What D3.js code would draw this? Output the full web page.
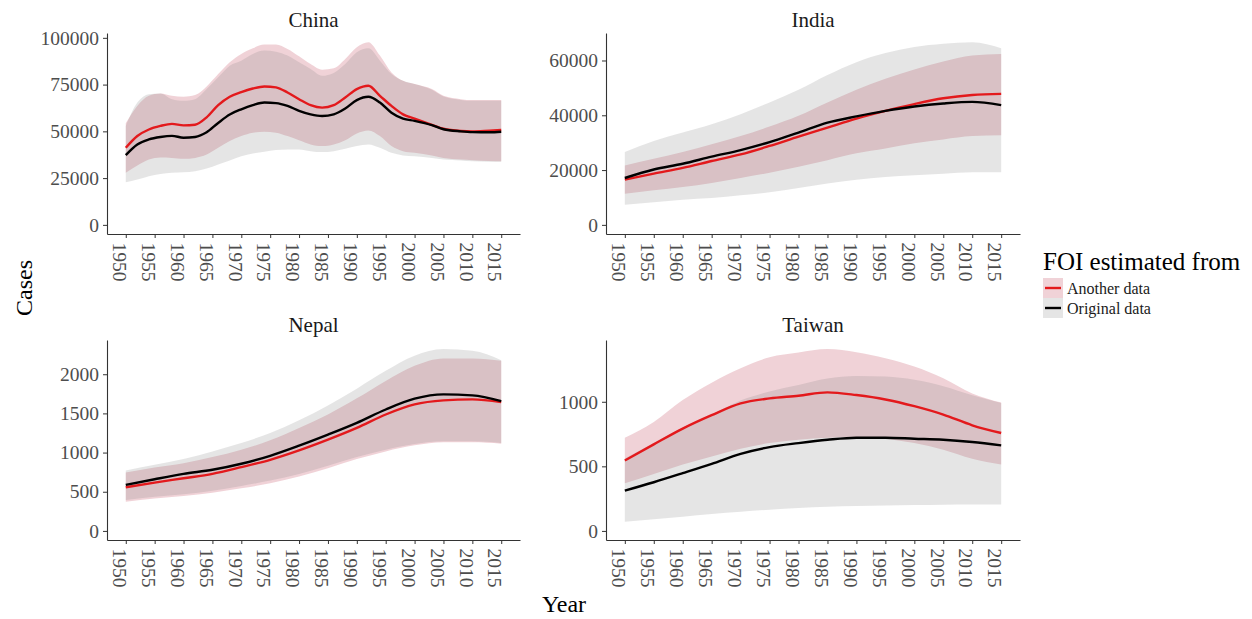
<!DOCTYPE html>
<html>
<head>
<meta charset="utf-8">
<script src="https://cdn.jsdelivr.net/npm/d3@7"></script>
<style>
  body { margin: 0; background: #fff; }
  svg { display: block; }
  text { font-family: "Liberation Serif", "Times New Roman", serif; }
</style>
</head>
<body>
<svg id="chart" width="1252" height="619"></svg>
<script>
// ---- Data: estimated cases with 95% bands, by source of the FOI estimate ----
const countries = ["China", "India", "Nepal", "Taiwan"];
const seriesNames = ["Another data", "Original data"];
const xTicks = [1950, 1955, 1960, 1965, 1970, 1975, 1980, 1985, 1990, 1995, 2000, 2005, 2010, 2015];

const chinaYears = [1950, 1952, 1954, 1956, 1958, 1960, 1962, 1964, 1966, 1968, 1970, 1972, 1974, 1976, 1978, 1980,
                    1982, 1984, 1986, 1988, 1990, 1992, 1994, 1996, 1998, 2000, 2003, 2005, 2008, 2010, 2013, 2015];
const chinaAnotherMid  = [41200, 47500, 51000, 52900, 54000, 53200, 53500, 57500, 64000, 68500, 71000, 72900, 74000, 73500, 70800, 67200,
                          64000, 62700, 64000, 68100, 72600, 74400, 69000, 63600, 59100, 56800, 53500, 51400, 50200, 50000, 50400, 50700];
const chinaAnotherLow  = [27800, 31700, 34900, 36000, 35800, 35300, 35800, 37600, 41200, 44800, 47500, 49300, 49800, 49300, 47500, 45200,
                          43000, 42100, 43000, 45300, 48900, 50500, 47500, 42100, 39400, 38500, 37100, 35800, 34900, 34600, 34200, 34000];
const chinaAnotherHigh = [54300, 63600, 69000, 70300, 69000, 68500, 69400, 74000, 80600, 86900, 91400, 94400, 96400, 96400, 94000, 90100,
                          86000, 83000, 83700, 88700, 95000, 97700, 90500, 81500, 77000, 75300, 72600, 69000, 67200, 66700, 66700, 66800];
const chinaOriginalMid  = [37300, 43000, 45700, 47000, 47600, 46600, 47000, 49500, 54500, 59000, 61800, 64000, 65400, 65100, 63600, 61000,
                           59100, 58200, 59100, 62200, 66700, 68500, 65400, 60000, 56800, 55600, 53300, 51100, 50000, 49600, 49500, 49800];
const chinaOriginalLow  = [22800, 24200, 26000, 27200, 27800, 28100, 28700, 30100, 32300, 34400, 36700, 38200, 39100, 40000, 40300, 40300,
                           39400, 38900, 39400, 40700, 42100, 43000, 41200, 38500, 37100, 36700, 35800, 34900, 34400, 34000, 33800, 33700];
const chinaOriginalHigh = [52900, 65400, 69900, 70300, 67200, 66300, 67200, 72600, 78900, 85100, 87800, 91400, 93200, 92600, 90500, 86900,
                           83300, 79700, 81200, 86000, 92300, 94400, 87800, 80600, 77000, 75300, 72200, 68600, 66800, 66300, 66300, 66300];
const chinaTicks = [0, 25000, 50000, 75000, 100000];

const fiveYears = [1950, 1955, 1960, 1965, 1970, 1975, 1980, 1985, 1990, 1995, 2000, 2005, 2010, 2015];

const indiaAnotherMid   = [16500, 18700, 20800, 23300, 25700, 28800, 32200, 35500, 38800, 41600, 44100, 46200, 47400, 47800];
const indiaAnotherLow   = [11400, 12600, 13800, 15300, 17100, 19000, 21200, 23600, 26100, 27900, 29800, 31200, 32400, 32700];
const indiaAnotherHigh  = [21700, 24100, 26600, 29400, 32400, 35900, 39800, 44700, 49300, 53300, 56700, 59600, 61800, 62400];
const indiaOriginalMid  = [17100, 20200, 22300, 24900, 27300, 30200, 33700, 37300, 39600, 41600, 43200, 44300, 44900, 43700];
const indiaOriginalLow  = [7300, 8300, 9200, 9800, 10800, 11900, 13500, 15100, 16500, 17500, 18100, 18700, 19200, 19200];
const indiaOriginalHigh = [26600, 30600, 33700, 36700, 40400, 44700, 49300, 54700, 59400, 62700, 64900, 66100, 66700, 64500];
const indiaTicks = [0, 20000, 40000, 60000];

const nepalAnotherMid   = [557, 617, 672, 728, 814, 908, 1028, 1165, 1315, 1486, 1615, 1666, 1679, 1645];
const nepalAnotherLow   = [373, 415, 445, 488, 544, 608, 694, 801, 917, 1015, 1092, 1131, 1131, 1114];
const nepalAnotherHigh  = [745, 810, 865, 942, 1036, 1156, 1315, 1486, 1692, 1915, 2107, 2201, 2201, 2172];
const nepalOriginalMid  = [587, 660, 728, 780, 857, 959, 1088, 1229, 1379, 1550, 1688, 1743, 1730, 1657];
const nepalOriginalLow  = [394, 437, 467, 514, 574, 642, 728, 831, 942, 1036, 1109, 1144, 1144, 1122];
const nepalOriginalHigh = [771, 844, 917, 1015, 1122, 1251, 1413, 1602, 1816, 2043, 2236, 2321, 2300, 2180];
const nepalTicks = [0, 500, 1000, 1500, 2000];

const taiwanAnotherMid   = [545, 670, 792, 896, 987, 1026, 1047, 1073, 1052, 1018, 966, 901, 818, 758];
const taiwanAnotherLow   = [369, 441, 514, 577, 636, 680, 706, 722, 727, 714, 680, 628, 558, 514];
const taiwanAnotherHigh  = [722, 844, 1013, 1148, 1260, 1345, 1382, 1408, 1384, 1337, 1273, 1182, 1065, 995];
const taiwanOriginalMid  = [312, 377, 447, 519, 597, 649, 680, 706, 722, 722, 714, 706, 688, 662];
const taiwanOriginalLow  = [70, 91, 109, 130, 148, 164, 177, 187, 192, 197, 200, 203, 205, 205];
const taiwanOriginalHigh = [560, 680, 800, 900, 1010, 1080, 1130, 1180, 1200, 1195, 1170, 1120, 1050, 990];
const taiwanTicks = [0, 500, 1000];

// ---- Assemble per-panel records ----
function zipSeries(years, mid, low, high) {
  return years.map((yr, i) => ({ year: yr, mid: mid[i], low: low[i], high: high[i] }));
}
const panelData = [
  { name: countries[0], ticks: chinaTicks,
    another: zipSeries(chinaYears, chinaAnotherMid, chinaAnotherLow, chinaAnotherHigh),
    original: zipSeries(chinaYears, chinaOriginalMid, chinaOriginalLow, chinaOriginalHigh) },
  { name: countries[1], ticks: indiaTicks,
    another: zipSeries(fiveYears, indiaAnotherMid, indiaAnotherLow, indiaAnotherHigh),
    original: zipSeries(fiveYears, indiaOriginalMid, indiaOriginalLow, indiaOriginalHigh) },
  { name: countries[2], ticks: nepalTicks,
    another: zipSeries(fiveYears, nepalAnotherMid, nepalAnotherLow, nepalAnotherHigh),
    original: zipSeries(fiveYears, nepalOriginalMid, nepalOriginalLow, nepalOriginalHigh) },
  { name: countries[3], ticks: taiwanTicks,
    another: zipSeries(fiveYears, taiwanAnotherMid, taiwanAnotherLow, taiwanAnotherHigh),
    original: zipSeries(fiveYears, taiwanOriginalMid, taiwanOriginalLow, taiwanOriginalHigh) }
];

// ---- Layout & style ----
const columns = [{ x0: 107, x1: 520 }, { x0: 606, x1: 1020 }];
const rows = [{ y0: 33, y1: 234, titleY: 27 }, { y0: 340, y1: 540, titleY: 332 }];
const colors = {
  another: { fill: "rgb(180,30,55)", line: "#e3191c" },
  original: { fill: "rgb(127,127,127)", line: "#000000" }
};
const bandOpacity = 0.2;
const axisColor = "#333333";
const tickTextColor = "#4d4d4d";

const svg = d3.select("#chart");

panelData.forEach((p, i) => {
  const col = columns[i % 2], row = rows[Math.floor(i / 2)];
  const xSpan = 2015 - 1950;
  const x = d3.scaleLinear()
    .domain([1950 - 0.05 * xSpan, 2015 + 0.05 * xSpan])
    .range([col.x0, col.x1]);
  const yMax = d3.max([...p.another, ...p.original], d => d.high);
  const y = d3.scaleLinear()
    .domain([-0.05 * yMax, 1.05 * yMax])
    .range([row.y1, row.y0]);

  const g = svg.append("g").attr("class", "panel");

  const area = d3.area().curve(d3.curveMonotoneX)
    .x(d => x(d.year)).y0(d => y(d.low)).y1(d => y(d.high));
  const line = d3.line().curve(d3.curveMonotoneX)
    .x(d => x(d.year)).y(d => y(d.mid));

  // bands: "Another data" first, "Original data" layered above it
  ["another", "original"].forEach(k => {
    g.append("path").datum(p[k])
      .attr("d", area)
      .attr("fill", colors[k].fill)
      .attr("fill-opacity", bandOpacity);
  });
  ["another", "original"].forEach(k => {
    g.append("path").datum(p[k])
      .attr("d", line)
      .attr("fill", "none")
      .attr("stroke", colors[k].line)
      .attr("stroke-width", 2.4)
      .attr("stroke-linejoin", "round");
  });

  // y axis
  const yAxis = g.append("g")
    .attr("transform", `translate(${col.x0},0)`)
    .call(d3.axisLeft(y).tickValues(p.ticks).tickFormat(d3.format("d"))
      .tickSize(4).tickSizeOuter(0).tickPadding(4));
  // x axis
  const xAxis = g.append("g")
    .attr("transform", `translate(0,${row.y1})`)
    .call(d3.axisBottom(x).tickValues(xTicks).tickFormat(d3.format("d"))
      .tickSize(4).tickSizeOuter(0));

  [yAxis, xAxis].forEach(ax => {
    ax.select(".domain").attr("stroke", axisColor).attr("stroke-width", 1.1);
    ax.selectAll(".tick line").attr("stroke", axisColor).attr("stroke-width", 1);
    ax.selectAll(".tick text")
      .attr("fill", tickTextColor)
      .style("font-family", '"Liberation Serif", "Times New Roman", serif')
      .style("font-size", "19.5px");
  });
  xAxis.selectAll(".tick text")
    .attr("transform", "rotate(90)")
    .attr("x", 8.5).attr("y", 0).attr("dy", "0.68em")
    .attr("text-anchor", "start");

  // panel strip title
  g.append("text")
    .attr("x", (col.x0 + col.x1) / 2)
    .attr("y", row.titleY)
    .attr("text-anchor", "middle")
    .attr("fill", "#1a1a1a")
    .style("font-size", "21px")
    .text(p.name);
});

// ---- Axis titles ----
svg.append("text")
  .attr("transform", "translate(32,288) rotate(-90)")
  .attr("text-anchor", "middle")
  .attr("fill", "#000")
  .style("font-size", "24px")
  .text("Cases");
svg.append("text")
  .attr("x", 564).attr("y", 612)
  .attr("text-anchor", "middle")
  .attr("fill", "#000")
  .style("font-size", "24px")
  .text("Year");

// ---- Legend ----
const legend = svg.append("g").attr("transform", "translate(1043,0)");
legend.append("text")
  .attr("x", 0).attr("y", 270)
  .attr("fill", "#000")
  .style("font-size", "25px")
  .text("FOI estimated from");
["another", "original"].forEach((k, i) => {
  const ky = 278 + i * 20;
  legend.append("rect")
    .attr("x", 0).attr("y", ky).attr("width", 20).attr("height", 20)
    .attr("fill", colors[k].fill).attr("fill-opacity", bandOpacity);
  legend.append("line")
    .attr("x1", 2).attr("x2", 18).attr("y1", ky + 10).attr("y2", ky + 10)
    .attr("stroke", colors[k].line).attr("stroke-width", 2.4);
  legend.append("text")
    .attr("x", 24).attr("y", ky + 15.5)
    .attr("fill", "#1a1a1a")
    .style("font-size", "16px")
    .text(seriesNames[i]);
});
</script>
</body>
</html>
